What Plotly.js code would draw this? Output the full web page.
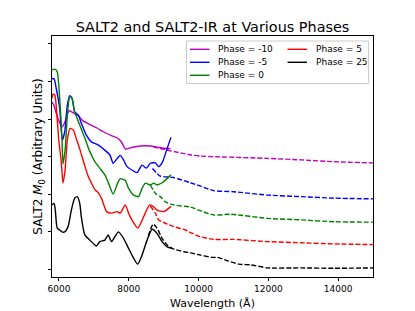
<!DOCTYPE html>
<html>
<head>
<meta charset="utf-8">
<script src="https://cdn.plot.ly/plotly-3.0.1.min.js"></script>
<style>html,body{margin:0;padding:0;background:#fff;}#chart{width:415px;height:311px;}</style>
</head>
<body>
<div id="chart"></div>
<script>
// ---- data (wavelength in Angstrom, flux in arbitrary offset units) ----
const phases = ["Phase = -10", "Phase = -5", "Phase = 0", "Phase = 5", "Phase = 25"];
const colors = ["#bf00bf", "#0000ff", "#008000", "#ff0000", "#000000"];

const salt2_wave_m10 = [5800,5850,5900,5970,6040,6090,6170,6290,6400,6550,6690,6890,7090,7270,7520,7700,7810,7900,8040,8330,8620,8820,9000,9200];
const salt2_flux_m10 = [4.45,4.38,4.22,4.02,3.86,3.79,3.92,4.22,4.17,4.09,3.95,3.85,3.76,3.66,3.55,3.48,3.36,3.20,3.23,3.28,3.28,3.25,3.22,3.21];
const ir_wave_m10 = [8700,9000,9300,9800,10060,10630,11970,12940,13890,15000];
const ir_flux_m10 = [3.26,3.19,3.13,3.04,3.01,2.99,2.95,2.91,2.86,2.83];

const salt2_wave_m5 = [5800,5860,5920,6020,6095,6165,6240,6310,6375,6450,6550,6640,6785,6930,7120,7315,7460,7555,7655,7755,7850,7950,8090,8235,8380,8505,8620,8765,8860,8965,9050,9135,9210];
const salt2_flux_m5 = [5.08,5.07,4.82,4.29,3.44,3.66,4.37,4.62,4.55,4.19,4.11,3.89,3.57,3.39,3.31,3.17,3.04,2.82,2.93,3.03,2.91,2.73,2.64,2.57,2.77,2.69,2.82,2.83,2.73,2.85,3.07,3.31,3.51];
const ir_wave_m5 = [8680,8900,9280,9770,10060,10430,11010,11990,12940,13890,15000];
const ir_flux_m5 = [2.68,2.48,2.44,2.30,2.21,2.09,2.06,1.97,1.93,1.89,1.87];

const salt2_wave_0 = [5800,5885,5950,6020,6085,6115,6180,6240,6310,6375,6450,6595,6740,6885,7030,7170,7315,7420,7555,7680,7755,7900,7995,8140,8280,8380,8475,8620,8715,8810,8955,9050,9210];
const salt2_flux_0 = [5.31,5.33,5.26,4.55,3.49,2.80,3.22,4.11,4.59,4.55,4.19,3.84,3.49,3.13,2.86,2.69,2.51,2.29,2.00,2.29,2.41,2.36,2.15,1.97,1.93,2.15,2.29,2.24,2.29,2.24,2.30,2.37,2.51];
const ir_wave_0 = [8620,8760,8905,9050,9290,9770,10060,10440,10920,11980,12940,13890,15000];
const ir_flux_0 = [2.24,2.02,1.93,1.79,1.71,1.65,1.55,1.44,1.46,1.35,1.31,1.26,1.25];

const salt2_wave_5 = [5800,5830,5880,5940,6000,6065,6115,6175,6240,6315,6410,6490,6605,6740,6835,6930,7035,7130,7225,7365,7515,7660,7755,7900,7995,8090,8260,8425,8600,8715,8810,9000,9210];
const salt2_flux_5 = [4.55,4.66,4.64,4.11,3.39,2.86,2.29,2.64,3.44,3.75,3.71,3.49,3.17,2.75,2.48,2.29,2.11,2.03,1.87,1.53,1.49,1.53,1.49,1.71,1.49,1.31,1.09,1.39,1.71,1.66,1.57,1.53,1.67];
const ir_wave_5 = [8620,8760,8860,9050,9290,9625,9770,10060,10440,11015,11980,12940,13890,15000];
const ir_flux_5 = [1.68,1.49,1.31,1.22,1.13,1.04,0.97,0.86,0.79,0.79,0.73,0.70,0.67,0.65];

const salt2_wave_25 = [5800,5860,5895,5950,6020,6085,6165,6260,6355,6450,6525,6595,6640,6740,6885,7030,7075,7170,7315,7410,7505,7600,7705,7850,7995,8140,8255,8380,8525,8670,8810,8955,9100,9245];
const salt2_flux_25 = [1.71,1.75,1.57,1.09,1.04,0.99,0.99,1.13,1.57,1.89,1.93,1.75,1.39,0.91,0.77,0.64,0.61,0.73,0.77,0.91,0.73,0.86,0.99,0.82,0.55,0.29,0.13,0.37,0.77,1.06,0.95,0.73,0.59,0.55];
const ir_wave_25 = [8560,8700,8810,8955,9100,9290,9580,9770,10060,10400,10540,10830,11160,11500,11980,12940,13890,15000];
const ir_flux_25 = [0.88,1.20,1.09,0.82,0.64,0.53,0.46,0.43,0.37,0.31,0.31,0.22,0.13,0.11,0.03,0.03,0.02,0.03];

const xTicks = [6000, 8000, 10000, 12000, 14000];
const yTicks = [0, 1, 2, 3, 4, 5, 6];

// ---- build traces ----
const salt2 = [[salt2_wave_m10, salt2_flux_m10],[salt2_wave_m5, salt2_flux_m5],[salt2_wave_0, salt2_flux_0],[salt2_wave_5, salt2_flux_5],[salt2_wave_25, salt2_flux_25]];
const ir = [[ir_wave_m10, ir_flux_m10],[ir_wave_m5, ir_flux_m5],[ir_wave_0, ir_flux_0],[ir_wave_5, ir_flux_5],[ir_wave_25, ir_flux_25]];

const traces = [];
for (let i = 0; i < phases.length; i++) {
  traces.push({x: salt2[i][0], y: salt2[i][1], type: 'scatter', mode: 'lines', name: phases[i],
    line: {color: colors[i], width: 1.4, shape: 'spline', smoothing: 0.6}, showlegend: false, hoverinfo: 'skip'});
  traces.push({x: ir[i][0], y: ir[i][1], type: 'scatter', mode: 'lines', name: phases[i] + ' IR',
    line: {color: colors[i], width: 1.4, dash: '5px,2px', shape: 'spline', smoothing: 0.6}, showlegend: false, hoverinfo: 'skip'});
}

// ---- geometry helpers (pixel -> paper) ----
const W = 415, H = 311, L = 52, R = 373, T = 36, B = 277;
const px = v => (v - L) / (R - L);
const py = v => (B - v) / (B - T);

// ---- custom legend (matplotlib-style compact layout) ----
const shapes = [];
const annotations = [];
shapes.push({type: 'rect', xref: 'paper', yref: 'paper', x0: px(186.5), x1: px(368.5), y0: py(83.5), y1: py(41),
  line: {color: '#cccccc', width: 1}, fillcolor: 'rgba(255,255,255,0.8)', layer: 'above'});
const colX = [190, 287.5];
const rowY = [49.3, 62.3, 75.3];
for (let i = 0; i < phases.length; i++) {
  const c = i < 3 ? 0 : 1;
  const r = i < 3 ? i : i - 3;
  shapes.push({type: 'line', xref: 'paper', yref: 'paper', x0: px(colX[c]), x1: px(colX[c] + 19.5), y0: py(rowY[r]), y1: py(rowY[r]),
    line: {color: colors[i], width: 1.4}, layer: 'above'});
  annotations.push({xref: 'paper', yref: 'paper', x: px(colX[c] + 26), y: py(rowY[r]), xanchor: 'left', yanchor: 'middle',
    text: phases[i], showarrow: false, font: {family: 'DejaVu Sans', size: 9, color: '#000'}});
}

const layout = {
  width: W, height: H,
  margin: {l: L, r: W - R, t: T, b: H - B, pad: 0},
  paper_bgcolor: '#ffffff', plot_bgcolor: '#ffffff',
  font: {family: 'DejaVu Sans', size: 9, color: '#000'},
  showlegend: false,
  title: {text: 'SALT2 and SALT2-IR at Various Phases', font: {family: 'DejaVu Sans', size: 14.4, color: '#000'},
    x: 0.5, xref: 'paper', y: 1 - 26.5 / H, yref: 'container', yanchor: 'middle'},
  xaxis: {range: [5800, 15000], tickvals: xTicks, ticktext: xTicks.map(String), ticks: 'outside', ticklen: 3, tickwidth: 1,
    tickcolor: '#000', showline: true, linecolor: '#000', linewidth: 1, mirror: true, showgrid: false, zeroline: false,
    tickfont: {family: 'DejaVu Sans', size: 9, color: '#000'},
    title: {text: 'Wavelength (Å)', font: {family: 'DejaVu Sans', size: 11, color: '#000'}, standoff: 6}},
  yaxis: {range: [-0.213, 6.213], tickvals: yTicks, showticklabels: false, ticks: 'outside', ticklen: 3, tickwidth: 1,
    tickcolor: '#000', showline: true, linecolor: '#000', linewidth: 1, mirror: true, showgrid: false, zeroline: false,
    title: {text: 'SALT2 <i>M</i><sub>0</sub> (Arbitrary Units)', font: {family: 'DejaVu Sans', size: 12, color: '#000'}, standoff: 2}},
  shapes: shapes,
  annotations: annotations
};

Plotly.newPlot('chart', traces, layout, {staticPlot: true, displayModeBar: false});
</script>
</body>
</html>
